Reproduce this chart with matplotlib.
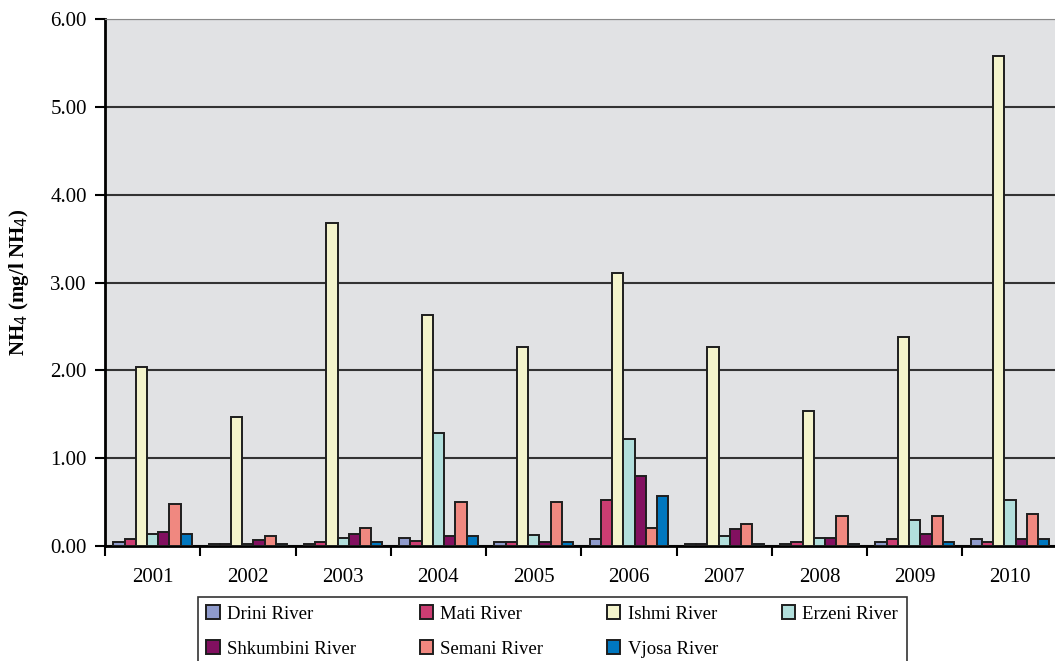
import matplotlib
matplotlib.use("Agg")
import matplotlib.pyplot as plt
import numpy as np

plt.rcParams['font.family'] = ['Liberation Serif', 'DejaVu Serif']

years = ['2001', '2002', '2003', '2004', '2005', '2006', '2007', '2008', '2009', '2010']
rivers = ['Drini River', 'Mati River', 'Ishmi River', 'Erzeni River',
          'Shkumbini River', 'Semani River', 'Vjosa River']

drini = [0.05, 0.02, 0.02, 0.09, 0.05, 0.08, 0.02, 0.02, 0.05, 0.08]
mati = [0.08, 0.02, 0.05, 0.06, 0.05, 0.52, 0.02, 0.05, 0.08, 0.05]
ishmi = [2.04, 1.47, 3.68, 2.63, 2.27, 3.11, 2.27, 1.54, 2.38, 5.58]
erzeni = [0.14, 0.02, 0.09, 1.29, 0.13, 1.22, 0.11, 0.09, 0.30, 0.52]
shkumbini = [0.16, 0.07, 0.14, 0.11, 0.05, 0.80, 0.19, 0.09, 0.14, 0.08]
semani = [0.48, 0.11, 0.21, 0.50, 0.50, 0.21, 0.25, 0.34, 0.34, 0.36]
vjosa = [0.14, 0.02, 0.05, 0.11, 0.05, 0.57, 0.02, 0.02, 0.05, 0.08]

series = [drini, mati, ishmi, erzeni, shkumbini, semani, vjosa]
colors = ['#8f9bcc', '#cc3d72', '#f4f4cc', '#b2dfdc', '#821060', '#f08880', '#0077bf']

fig = plt.figure(figsize=(10.55, 6.61), dpi=100)
ax = fig.add_axes([0.0995, 0.174, 0.903, 0.797])
ax.set_facecolor('#e1e2e4')

x = np.arange(len(years))
w = 0.118
bars = []
for k, (vals, c, name) in enumerate(zip(series, colors, rivers)):
    b = ax.bar(x + (k - 3) * w, vals, w, color=c, edgecolor='#1e1e1e', linewidth=1.4,
               label=name, zorder=3)
    bars.append(b)

ax.set_xlim(-0.5, len(years) - 0.5)
ax.set_ylim(0, 6)
ax.set_yticks(np.arange(0, 6.01, 1))
ax.set_yticklabels(['%.2f' % v for v in np.arange(0, 6.01, 1)], fontsize=15)
ax.yaxis.grid(True, color='#333333', linewidth=1.5, zorder=1)
ax.set_axisbelow(True)

ax.set_xticks(x)
ax.set_xticklabels(years, fontsize=15)
ax.tick_params(axis='x', which='major', length=0, pad=16)
ax.set_xticks(np.arange(-0.5, len(years), 1), minor=True)
ax.tick_params(axis='x', which='minor', length=7, width=1.5, direction='out')
ax.tick_params(axis='y', length=7, width=1.5, direction='out', pad=6)

ax.spines['left'].set_linewidth(2)
ax.spines['bottom'].set_linewidth(2)
ax.spines['top'].set_color('#888888')
ax.spines['right'].set_visible(False)

ax.set_ylabel('NH$_4$ (mg/l NH$_4$)', fontsize=15, fontweight='bold', labelpad=14)

# legend filled row by row like the original (matplotlib fills by column)
order = [0, 4, 1, 5, 2, 6, 3]
leg = fig.legend([bars[i] for i in order], [rivers[i] for i in order],
                 loc='upper center', bbox_to_anchor=(0.5235, 0.0968), ncol=4,
                 fontsize=13.5, frameon=True, fancybox=False, edgecolor='black',
                 handlelength=0.7, handleheight=0.7, handletextpad=0.4,
                 columnspacing=3.4, borderpad=0.45, labelspacing=0.95,
                 borderaxespad=0)
leg.get_frame().set_linewidth(1.2)

fig.savefig('out.png', dpi=100)
